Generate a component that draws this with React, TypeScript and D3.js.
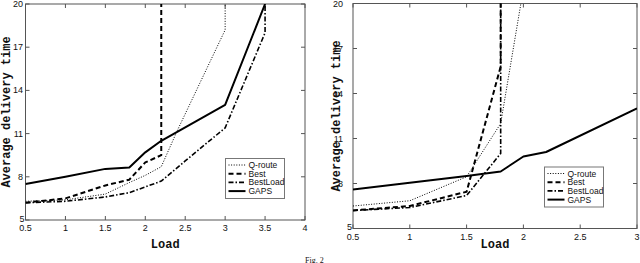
import React from "react";
import * as d3 from "d3";

// ---- data (left panel) ----
const qrouteL_x = [0.5, 1, 1.5, 1.8, 2, 2.2, 2.4, 3, 3];
const qrouteL_y = [6.3, 6.4, 6.8, 7.6, 8.1, 8.7, 11.2, 18.2, 25];
const bestL_x = [0.5, 1, 1.5, 1.8, 2, 2.2, 2.2];
const bestL_y = [6.2, 6.5, 7.4, 7.8, 9.0, 9.5, 25];
const bestLoadL_x = [0.5, 1, 1.5, 1.8, 2, 2.2, 2.5, 3, 3.5, 3.5];
const bestLoadL_y = [6.2, 6.3, 6.6, 6.9, 7.3, 7.7, 9.1, 11.4, 18, 25];
const gapsL_x = [0.5, 1, 1.5, 1.8, 2, 2.2, 3, 3.5];
const gapsL_y = [7.5, 8.0, 8.55, 8.65, 9.7, 10.5, 13, 20];

// ---- data (right panel) ----
const qrouteR_x = [0.5, 1, 1.5, 1.8, 2];
const qrouteR_y = [6.5, 6.85, 8.45, 12, 21];
const bestR_x = [0.5, 1, 1.5, 1.8, 1.8];
const bestR_y = [6.2, 6.5, 7.45, 15.8, 25];
const bestLoadR_x = [0.5, 1, 1.5, 1.8, 1.8];
const bestLoadR_y = [6.2, 6.4, 7.2, 10, 25];
const gapsR_x = [0.5, 1, 1.5, 1.8, 2, 2.2, 3];
const gapsR_y = [7.6, 8.05, 8.5, 8.8, 9.8, 10.1, 13];

const seriesNames = ["Q-route", "Best", "BestLoad", "GAPS"];
const yTicks = [5, 8, 11, 14, 17, 20];
const xTicksL = [0.5, 1, 1.5, 2, 2.5, 3, 3.5, 4];
const xTicksR = [0.5, 1, 1.5, 2, 2.5, 3];
const yLabel = "Average delivery time";
const xLabel = "Load";
const caption = "Fig. 2";

const styles: Record<string, { w: number; dash: string }> = {
  "Q-route": { w: 1, dash: "1,1.6" },
  Best: { w: 2, dash: "5,3" },
  BestLoad: { w: 1.6, dash: "5,2,1.5,2" },
  GAPS: { w: 2, dash: "" },
};

type Panel = {
  id: string;
  x0: number; x1: number; y0: number; y1: number;
  xDomain: [number, number];
  xTicks: number[];
  series: { name: string; xs: number[]; ys: number[] }[];
  legend: { x: number; y: number };
  yLabelX: number;
  yTickRight: number;
};

const panels: Panel[] = [
  {
    id: "L", x0: 25.5, x1: 305, y0: 4, y1: 220,
    xDomain: [0.5, 4], xTicks: xTicksL,
    series: [
      { name: "Q-route", xs: qrouteL_x, ys: qrouteL_y },
      { name: "Best", xs: bestL_x, ys: bestL_y },
      { name: "BestLoad", xs: bestLoadL_x, ys: bestLoadL_y },
      { name: "GAPS", xs: gapsL_x, ys: gapsL_y },
    ],
    legend: { x: 225.5, y: 158.5 },
    yLabelX: 6,
    yTickRight: 23,
  },
  {
    id: "R", x0: 353, x1: 637, y0: 3.5, y1: 228.5,
    xDomain: [0.5, 3], xTicks: xTicksR,
    series: [
      { name: "Q-route", xs: qrouteR_x, ys: qrouteR_y },
      { name: "Best", xs: bestR_x, ys: bestR_y },
      { name: "BestLoad", xs: bestLoadR_x, ys: bestLoadR_y },
      { name: "GAPS", xs: gapsR_x, ys: gapsR_y },
    ],
    legend: { x: 544.5, y: 167 },
    yLabelX: 336,
    yTickRight: 343,
  },
];

const tickFont = "'Liberation Sans', Arial, sans-serif";
const monoFont = "'Liberation Mono', 'DejaVu Sans Mono', monospace";

function PanelView({ p }: { p: Panel }) {
  const x = d3.scaleLinear().domain(p.xDomain).range([p.x0, p.x1]);
  const y = d3.scaleLinear().domain([5, 20]).range([p.y1, p.y0]);
  const line = d3.line<[number, number]>().x((d) => x(d[0])).y((d) => y(d[1]));
  const clipId = "clip" + p.id;
  const axisColor = "#555";
  const tl = 4;
  const lg = p.legend;
  return (
    <g>
      <defs>
        <clipPath id={clipId}>
          <rect x={p.x0} y={p.y0} width={p.x1 - p.x0} height={p.y1 - p.y0} />
        </clipPath>
      </defs>
      <rect x={p.x0} y={p.y0} width={p.x1 - p.x0} height={p.y1 - p.y0} fill="white" stroke={axisColor} strokeWidth={1} />
      {p.xTicks.map((t) => (
        <g key={"x" + t}>
          <line x1={x(t)} x2={x(t)} y1={p.y1} y2={p.y1 - tl} stroke={axisColor} />
          <line x1={x(t)} x2={x(t)} y1={p.y0} y2={p.y0 + tl} stroke={axisColor} />
          <text x={x(t)} y={p.y1 + 11} fontSize={9} fontFamily={tickFont} textAnchor="middle" fill="#111">{t}</text>
        </g>
      ))}
      {yTicks.map((t) => (
        <g key={"y" + t}>
          <line x1={p.x0} x2={p.x0 + tl} y1={y(t)} y2={y(t)} stroke={axisColor} />
          <line x1={p.x1} x2={p.x1 - tl} y1={y(t)} y2={y(t)} stroke={axisColor} />
          <text x={t === 5 ? p.x0 - 1 : p.yTickRight} y={y(t) + (t === 5 ? 1.5 : 3)} fontSize={9} fontFamily={tickFont} textAnchor="end" fill="#111">{t}</text>
        </g>
      ))}
      <g clipPath={`url(#${clipId})`}>
        {p.series.map((s) => {
          const st = styles[s.name];
          const pts = s.xs.map((v, i) => [v, s.ys[i]] as [number, number]);
          return (
            <path key={s.name} d={line(pts) || ""} fill="none" stroke="#000" strokeWidth={st.w} strokeDasharray={st.dash} strokeLinejoin="round" />
          );
        })}
      </g>
      <text x={(p.x0 + p.x1) / 2} y={248} fontSize={12} fontWeight="bold" fontFamily={monoFont} textAnchor="middle" fill="#111">{xLabel}</text>
      <text transform={`translate(${p.yLabelX + 4},${(p.y0 + p.y1) / 2}) rotate(-90)`} fontSize={12} fontWeight="bold" fontFamily={monoFont} textAnchor="middle" fill="#111">{yLabel}</text>
      <rect x={lg.x} y={lg.y} width={59} height={40} fill="white" stroke="#777" strokeWidth={1} />
      {seriesNames.map((n, i) => {
        const st = styles[n];
        const ly = lg.y + 6.5 + i * 8.7;
        return (
          <g key={n}>
            <line x1={lg.x + 3} x2={lg.x + 20} y1={ly} y2={ly} stroke="#000" strokeWidth={st.w} strokeDasharray={st.dash} />
            <text x={lg.x + 23} y={ly + 3} fontSize={8.5} fontFamily={tickFont} fill="#111">{n}</text>
          </g>
        );
      })}
    </g>
  );
}

export default function App() {
  return (
    <svg width={640} height={263} style={{ position: "fixed", left: 0, top: 0, background: "white" }}>
      <rect width={640} height={263} fill="white" />
      {panels.map((p) => (
        <PanelView key={p.id} p={p} />
      ))}
      <text x={305} y={262.5} fontSize={8} fontFamily="'Liberation Serif', serif" fill="#111">{caption}</text>
    </svg>
  );
}
